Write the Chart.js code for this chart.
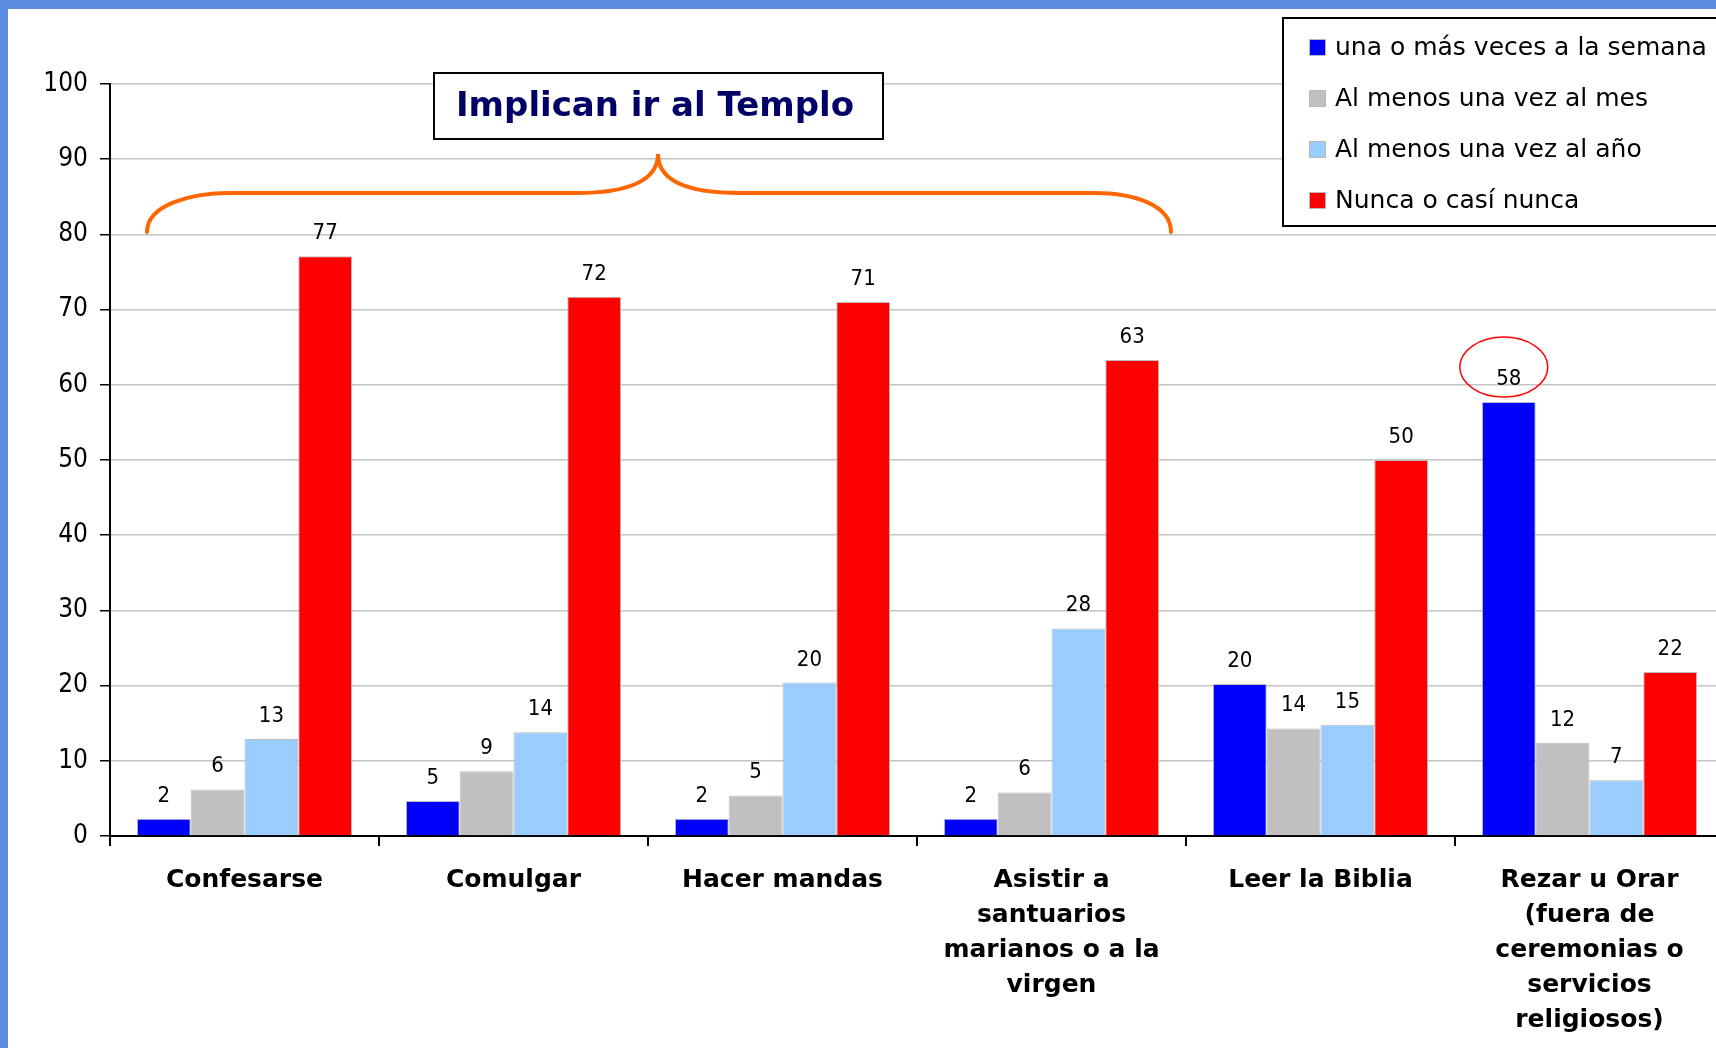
<!DOCTYPE html>
<html>
<head>
<meta charset="utf-8">
<script src="https://cdn.jsdelivr.net/npm/chart.js@4/dist/chart.umd.min.js"></script>
<style>
  html, body { margin: 0; padding: 0; overflow: hidden; background: #fff; }
  #frameLeft { position: absolute; left: 0; top: 0; width: 8px; height: 1048px; background: #5b8be1; z-index: 2; }
  #frameTop { position: absolute; left: 0; top: 0; width: 1716px; height: 9px; background: #5b8be1; z-index: 2; }
  #chart { position: absolute; left: 0; top: 0; }
</style>
</head>
<body>
<div id="frameLeft"></div>
<div id="frameTop"></div>
<canvas id="chart" width="1724" height="1048"></canvas>
<script>
var FONT = '"DejaVu Sans Condensed", "DejaVu Sans", sans-serif';
var WIDE = '"DejaVu Sans", sans-serif';

var categories = [
  'Confesarse',
  'Comulgar',
  'Hacer mandas',
  ['Asistir a', 'santuarios', 'marianos o a la', 'virgen'],
  'Leer la Biblia',
  ['Rezar u Orar', '(fuera de', 'ceremonias o', 'servicios', 'religiosos)']
];
var seriesNames = [
  'una o más veces a la semana',
  'Al menos una vez al mes',
  'Al menos una vez al año',
  'Nunca o casí nunca'
];
var semana = [2.3, 4.65, 2.3, 2.3, 20.2, 57.7];
var mes = [6.2, 8.6, 5.4, 5.8, 14.3, 12.4];
var anio = [12.9, 13.8, 20.4, 27.6, 14.8, 7.4];
var nunca = [77.1, 71.7, 71.0, 63.3, 50.0, 21.8];
var seriesColors = ['#0000ff', '#c0c0c0', '#99ccff', '#ff0000'];
var titleText = 'Implican ir al Templo';

Chart.defaults.font.family = FONT;
Chart.defaults.color = '#000';

// value labels above every bar
var valueLabels = {
  id: 'valueLabels',
  afterDatasetsDraw: function (chart) {
    var ctx = chart.ctx;
    ctx.save();
    ctx.font = '22px ' + FONT;
    ctx.fillStyle = '#000';
    ctx.textAlign = 'center';
    ctx.textBaseline = 'alphabetic';
    chart.data.datasets.forEach(function (ds, i) {
      chart.getDatasetMeta(i).data.forEach(function (bar, j) {
        ctx.fillText(Math.round(ds.data[j]), bar.x, bar.y - 17);
      });
    });
    ctx.restore();
  }
};

// brace, title box, red ellipse and legend box
var decorations = {
  id: 'decorations',
  afterDraw: function (chart) {
    var ctx = chart.ctx;
    ctx.save();

    // orange brace
    ctx.strokeStyle = '#ff6600';
    ctx.lineWidth = 4;
    ctx.lineCap = 'round';
    ctx.beginPath();
    ctx.moveTo(147, 232);
    ctx.bezierCurveTo(147, 205, 190, 193, 230, 193);
    ctx.lineTo(577, 193);
    ctx.bezierCurveTo(625, 193, 658, 182, 658, 154);
    ctx.bezierCurveTo(658, 182, 691, 193, 740, 193);
    ctx.lineTo(1094, 193);
    ctx.bezierCurveTo(1134, 193, 1171, 205, 1171, 232);
    ctx.stroke();

    // title box
    ctx.fillStyle = '#fff';
    ctx.fillRect(434, 73, 449, 66);
    ctx.strokeStyle = '#000';
    ctx.lineWidth = 2;
    ctx.strokeRect(434, 73, 449, 66);
    ctx.fillStyle = '#000066';
    ctx.font = 'bold 34px ' + WIDE;
    ctx.textAlign = 'center';
    ctx.textBaseline = 'middle';
    ctx.fillText(titleText, 655, 107);

    // red ellipse round the highest weekly value
    var bar = chart.getDatasetMeta(0).data[5];
    ctx.strokeStyle = '#ff0000';
    ctx.lineWidth = 1.5;
    ctx.beginPath();
    ctx.ellipse(bar.x - 5, bar.y - 35, 44, 30, 0, 0, Math.PI * 2);
    ctx.stroke();

    // legend
    ctx.fillStyle = '#fff';
    ctx.fillRect(1283, 18, 500, 208);
    ctx.strokeStyle = '#000';
    ctx.lineWidth = 2;
    ctx.strokeRect(1283, 18, 500, 208);
    ctx.font = '25px ' + WIDE;
    ctx.textAlign = 'left';
    ctx.textBaseline = 'middle';
    chart.data.datasets.forEach(function (ds, i) {
      var y = 47 + i * 51;
      ctx.fillStyle = ds.backgroundColor;
      ctx.fillRect(1309, y - 8, 17, 17);
      ctx.strokeStyle = '#b8b8b8';
      ctx.lineWidth = 1;
      ctx.strokeRect(1309.5, y - 7.5, 16, 16);
      ctx.fillStyle = '#000';
      ctx.fillText(ds.label, 1335, y + 1);
    });

    ctx.restore();
  }
};

var seriesData = [semana, mes, anio, nunca];

var config = {
  type: 'bar',
  data: {
    labels: categories,
    datasets: seriesNames.map(function (name, i) {
      return {
        label: name,
        data: seriesData[i],
        backgroundColor: seriesColors[i],
        borderColor: '#bdbdbd',
        borderWidth: 1,
        borderSkipped: 'bottom'
      };
    })
  },
  options: {
    responsive: false,
    animation: false,
    devicePixelRatio: 1,
    layout: { padding: { top: 84, left: 0, right: 0, bottom: 0 } },
    datasets: { bar: { categoryPercentage: 0.8, barPercentage: 1 } },
    plugins: {
      legend: { display: false },
      tooltip: { enabled: false }
    },
    scales: {
      x: {
        grid: {
          offset: true,
          drawOnChartArea: false,
          drawTicks: true,
          tickLength: 10,
          color: '#000',
          lineWidth: 2
        },
        border: { display: true, color: '#000', width: 2 },
        ticks: {
          autoSkip: false,
          maxRotation: 0,
          padding: 17,
          color: '#000',
          font: { family: WIDE, size: 25, weight: 'bold', lineHeight: 1.4 }
        },
        afterFit: function (scale) { scale.height = 212; }
      },
      y: {
        min: 0,
        max: 100,
        ticks: {
          stepSize: 10,
          padding: 12,
          color: '#000',
          font: { size: 26 }
        },
        grid: {
          color: '#c4c4c4',
          lineWidth: 1.5,
          tickColor: '#000',
          tickLength: 10
        },
        border: { display: true, color: '#000', width: 2 },
        afterFit: function (scale) { scale.width = 110; }
      }
    }
  },
  plugins: [valueLabels, decorations]
};

var ctx = document.getElementById('chart').getContext('2d');
var myChart = new Chart(ctx, config);
</script>
</body>
</html>
